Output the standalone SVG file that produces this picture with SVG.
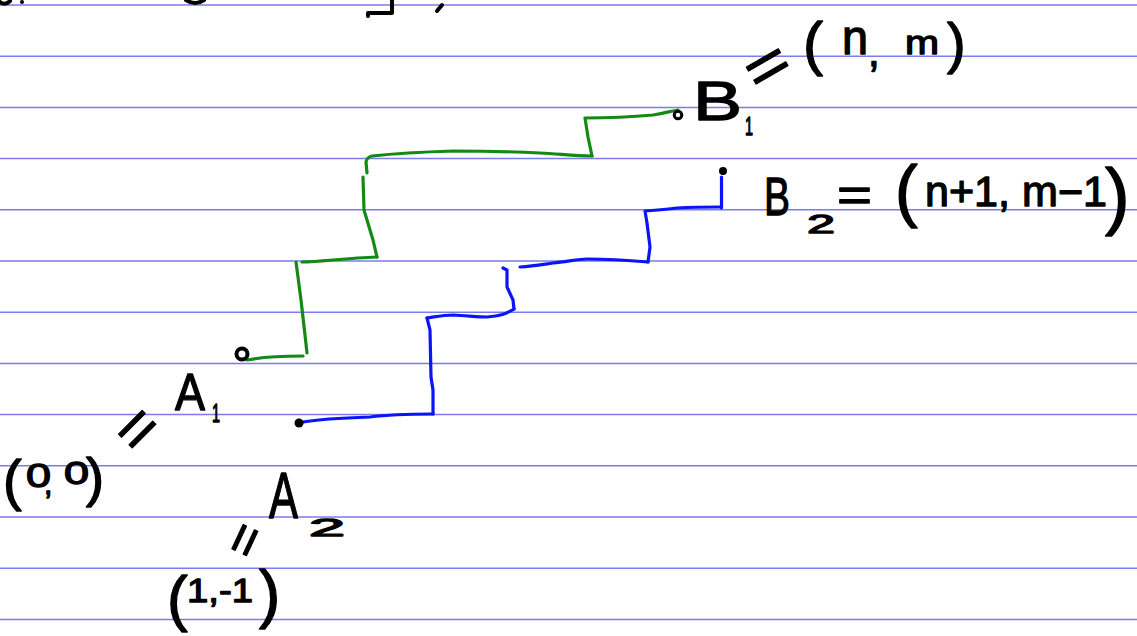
<svg xmlns="http://www.w3.org/2000/svg" width="1137" height="636" viewBox="0 0 1137 636">
<style>
.rule{stroke:#7b7bef;stroke-width:1.5}
.ink{font-family:"Liberation Sans","DejaVu Sans",sans-serif;fill:#000;stroke:#000;stroke-width:1.3;stroke-linejoin:round}
.g{fill:none;stroke:#148a14;stroke-width:3.2;stroke-linecap:round;stroke-linejoin:round}
.b{fill:none;stroke:#0a14f5;stroke-width:3.2;stroke-linecap:round;stroke-linejoin:round}
.frag{fill:none;stroke:#000;stroke-width:4;stroke-linecap:round;stroke-linejoin:round}
</style>
<rect width="1137" height="636" fill="#fff"/>
<g id="rules">
<line class="rule" x1="0" y1="5" x2="1137" y2="5"/>
<line class="rule" x1="0" y1="56.2" x2="1137" y2="56.2"/>
<line class="rule" x1="0" y1="107.4" x2="1137" y2="107.4"/>
<line class="rule" x1="0" y1="158.6" x2="1137" y2="158.6"/>
<line class="rule" x1="0" y1="209.8" x2="1137" y2="209.8"/>
<line class="rule" x1="0" y1="261" x2="1137" y2="261"/>
<line class="rule" x1="0" y1="312.2" x2="1137" y2="312.2"/>
<line class="rule" x1="0" y1="363.4" x2="1137" y2="363.4"/>
<line class="rule" x1="0" y1="414.6" x2="1137" y2="414.6"/>
<line class="rule" x1="0" y1="465.8" x2="1137" y2="465.8"/>
<line class="rule" x1="0" y1="517" x2="1137" y2="517"/>
<line class="rule" x1="0" y1="568.2" x2="1137" y2="568.2"/>
<line class="rule" x1="0" y1="619.4" x2="1137" y2="619.4"/>
</g>
<g id="top-fragments">
<path class="frag" d="M0,2 Q5,6 10,1"/>
<circle cx="22" cy="2" r="2" fill="#000"/>
<path class="frag" d="M186,0 Q195,6 204,0"/>
<path class="frag" d="M392,0 L392,13 L368,13 L368,16"/>
<path class="frag" stroke-width="5" d="M437,11 L442,5"/>
</g>
<g id="connectors">
<path class="g" d="M247,360 C262,357 282,356 303,356"/>
<path class="g" d="M307,353 L305,335 L301,300 L296,262"/>
<path class="g" d="M302,262 C320,262 345,258 377,257"/>
<path class="g" d="M377,257 L373,240 L364,210 L363,177"/>
<path class="g" d="M367,173 L366,162 Q367,157 372,156 C390,154 420,152 453,151 C490,151 520,152 540,153 C560,154 575,156 592,156"/>
<path class="g" d="M592,156 L588,137 L585,118 C600,118 620,118 653,115 C665,113 672,111 678,110"/>
<path class="b" d="M303,422 C320,419 340,418 370,417 C385,415 400,414 433,414"/>
<path class="b" d="M433,414 L433,390 L431,377 L430,330 L427,318"/>
<path class="b" d="M427,318 C440,316 445,315 453,315 C470,316 480,317 487,317 C500,316 506,314 514,309"/>
<path class="b" d="M514,309 L513,300 L507,287 L507,270 L503,268"/>
<path class="b" d="M520,267 C535,266 545,264 553,263 C570,261 580,259 587,259 C610,259 625,260 648,262"/>
<path class="b" d="M648,262 L650,247 L647,223 L645,211 C660,210 670,209 677,208 C695,207 708,207 720,207"/>
<path class="b" d="M721.5,208 L721.5,177"/>
</g>
<g id="A1">
<circle cx="242" cy="354" r="5.5" fill="none" stroke="#000" stroke-width="4"/>
<text class="ink" x="175" y="410" font-size="52" textLength="30" lengthAdjust="spacingAndGlyphs">A</text>
<text class="ink" x="212" y="422" font-size="26" textLength="8" lengthAdjust="spacingAndGlyphs">1</text>
<text class="ink" font-size="60" textLength="40" lengthAdjust="spacingAndGlyphs" transform="translate(139,431) rotate(-45)" x="-20" y="17">=</text>
<text class="ink" x="3" y="499" font-size="56">(</text>
<text class="ink" x="26" y="487" font-size="34" textLength="25" lengthAdjust="spacingAndGlyphs">0</text>
<text class="ink" x="44" y="494" font-size="30">,</text>
<text class="ink" x="64" y="484" font-size="32" textLength="25" lengthAdjust="spacingAndGlyphs">0</text>
<text class="ink" x="86" y="496" font-size="54">)</text>
</g>
<g id="A2">
<circle cx="299" cy="423" r="4.5" fill="#000"/>
<text class="ink" font-size="64" transform="translate(269,518) scale(0.68,1)" x="0" y="0">A</text>
<text class="ink" x="309" y="536" font-size="24" textLength="36" lengthAdjust="spacingAndGlyphs">2</text>
<text class="ink" font-size="50" textLength="32" lengthAdjust="spacingAndGlyphs" transform="translate(247,541) rotate(-65)" x="-16" y="14">=</text>
<text class="ink" x="167" y="619" font-size="62">(</text>
<text class="ink" x="187" y="602" font-size="34" textLength="66" lengthAdjust="spacingAndGlyphs">1,-1</text>
<text class="ink" x="259" y="616" font-size="64">)</text>
</g>
<g id="B1">
<circle cx="678" cy="115" r="3.8" fill="none" stroke="#000" stroke-width="3"/>
<text class="ink" x="693" y="120" font-size="56" textLength="49" lengthAdjust="spacingAndGlyphs">B</text>
<text class="ink" x="745" y="135" font-size="26" textLength="8" lengthAdjust="spacingAndGlyphs">1</text>
<text class="ink" font-size="60" textLength="44" lengthAdjust="spacingAndGlyphs" transform="translate(768,68) rotate(-30)" x="-22" y="18">=</text>
<text class="ink" x="803" y="64" font-size="60">(</text>
<text class="ink" x="842" y="54" font-size="48" textLength="26" lengthAdjust="spacingAndGlyphs">n</text>
<text class="ink" x="868" y="66" font-size="42">,</text>
<text class="ink" x="905" y="54" font-size="34" textLength="34" lengthAdjust="spacingAndGlyphs">m</text>
<text class="ink" x="947" y="62" font-size="56">)</text>
</g>
<g id="B2">
<circle cx="723" cy="171" r="4" fill="#000"/>
<text class="ink" x="764" y="215" font-size="54" textLength="26" lengthAdjust="spacingAndGlyphs">B</text>
<text class="ink" x="807" y="233" font-size="26" textLength="28" lengthAdjust="spacingAndGlyphs">2</text>
<text class="ink" x="837" y="211" font-size="46" textLength="35" lengthAdjust="spacingAndGlyphs">=</text>
<text class="ink" x="895" y="214" font-size="68">(</text>
<text class="ink" x="925" y="206" font-size="42" textLength="182" lengthAdjust="spacingAndGlyphs">n+1, m−1</text>
<text class="ink" x="1105" y="221" font-size="74">)</text>
</g>
</svg>
